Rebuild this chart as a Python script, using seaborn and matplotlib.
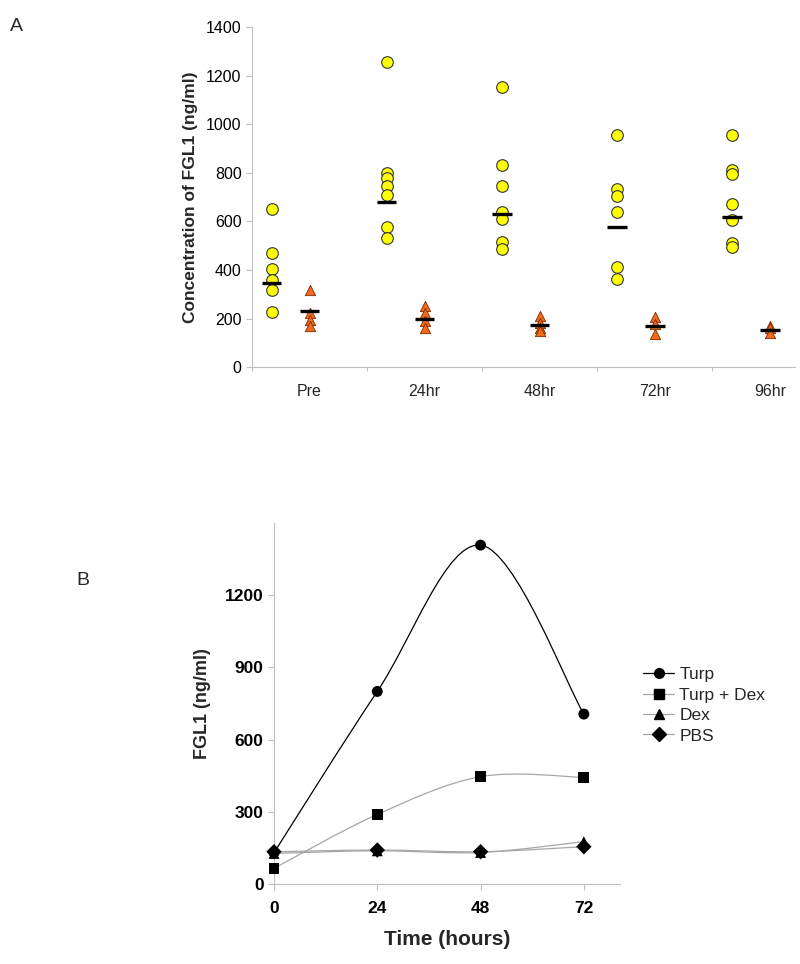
import numpy as np
import pandas as pd
import seaborn as sns
import matplotlib.pyplot as plt
from matplotlib.path import Path
from matplotlib.patches import PathPatch
from matplotlib.lines import Line2D

sns.set_style("ticks")
plt.rcParams['font.family'] = ['Liberation Sans', 'DejaVu Sans']

# --- panel A data ---
time_points = ['Pre', '24hr', '48hr', '72hr', '96hr']
circles = [
    [651, 470, 404, 361, 319, 226],
    [1255, 800, 779, 747, 707, 576, 532],
    [1153, 834, 747, 638, 612, 516, 487],
    [954, 734, 703, 640, 413, 363],
    [954, 810, 797, 672, 607, 511, 494],
]
triangles = [
    [317, 222, 195, 170],
    [254, 223, 189, 162],
    [213, 182, 160, 148],
    [206, 180, 138],
    [169, 162, 141],
]
circle_bars = [347, 679, 631, 577, 618]
triangle_bars = [230, 199, 173, 169, 152]

# --- panel B data ---
hours = [0, 24, 48, 72]
groups = ['Turp', 'Turp + Dex', 'Dex', 'PBS']
turp = [130, 800, 1408, 706]
turp_dex = [65, 289, 446, 443]
dex = [127, 138, 131, 176]
pbs = [134, 141, 134, 155]

GRAY = '#bfbfbf'


def smooth_path(xs, ys):
    # excel-like smoothed line: cubic bezier with catmull-rom control points
    pts = np.column_stack([xs, ys]).astype(float)
    p = np.vstack([pts[0], pts, pts[-1]])
    verts = [tuple(pts[0])]
    codes = [Path.MOVETO]
    for i in range(1, len(p) - 2):
        c1 = p[i] + (p[i + 1] - p[i - 1]) / 6
        c2 = p[i + 1] - (p[i + 2] - p[i]) / 6
        verts += [tuple(c1), tuple(c2), tuple(p[i + 1])]
        codes += [Path.CURVE4] * 3
    return Path(verts, codes)


def style_axes(ax):
    sns.despine(ax=ax)
    for s in ['left', 'bottom']:
        ax.spines[s].set_color(GRAY)
        ax.spines[s].set_linewidth(0.8)
    ax.tick_params(colors=GRAY, labelcolor='black', length=4, width=0.8)


fig = plt.figure(figsize=(8, 9.64), dpi=100)

# ================= A =================
axA = fig.add_axes([0.315, 0.619, 0.679, 0.353])
rows = []
for i, t in enumerate(time_points):
    for v in circles[i]:
        rows.append({'x': i - 0.33, 'y': v, 'grp': 'c'})
    for v in triangles[i]:
        rows.append({'x': i, 'y': v, 'grp': 't'})
dfA = pd.DataFrame(rows)
sns.scatterplot(data=dfA[dfA.grp == 'c'], x='x', y='y', ax=axA, marker='o',
                s=70, color='#ffff00', edgecolor='#333333', linewidth=0.8, zorder=3)
sns.scatterplot(data=dfA[dfA.grp == 't'], x='x', y='y', ax=axA, marker='^',
                s=55, color='#f26a1b', edgecolor='#7a2a00', linewidth=0.6, zorder=3)
idx = np.arange(len(time_points))
axA.hlines(circle_bars, idx - 0.33 - 0.085, idx - 0.33 + 0.085, color='black', lw=2.4, zorder=4)
axA.hlines(triangle_bars, idx - 0.085, idx + 0.085, color='black', lw=2.4, zorder=4)

axA.set_xticks(idx - 0.5)
axA.set_xticklabels([])
axA.set_xticks(idx, minor=True)
axA.set_xticklabels(time_points, minor=True, fontsize=11.5)
axA.set_yticks(range(0, 1401, 200))
axA.set_xlim(-0.5, 4.22)
axA.set_ylim(0, 1400)
axA.set_xlabel('')
axA.set_ylabel('Concentration of FGL1 (ng/ml)', fontsize=12.5, fontweight='bold', labelpad=6)
style_axes(axA)
axA.tick_params(axis='y', labelsize=11.5)
axA.tick_params(axis='x', which='major', length=3)
axA.tick_params(axis='x', which='minor', length=0, pad=12)
fig.text(0.012, 0.972, 'A', fontsize=14, va='center')

# ================= B =================
axB = fig.add_axes([0.3425, 0.083, 0.4325, 0.3745])
series = [turp, turp_dex, dex, pbs]
line_colors = ['black', '#a6a6a6', '#a6a6a6', '#a6a6a6']
markers = ['o', 's', '^', 'D']
for vals, c in zip(series, line_colors):
    axB.add_patch(PathPatch(smooth_path(hours, vals), facecolor='none',
                            edgecolor=c, lw=0.9, zorder=2))
dfB = pd.DataFrame({'hour': hours * 4,
                    'value': turp + turp_dex + dex + pbs,
                    'group': np.repeat(groups, 4)})
sns.scatterplot(data=dfB, x='hour', y='value', style='group', style_order=groups,
                markers=dict(zip(groups, markers)), color='black', s=62,
                edgecolor='black', linewidth=0, ax=axB, legend=False, zorder=3, clip_on=False)
axB.set_xticks(hours)
axB.set_yticks(range(0, 1201, 300))
axB.set_xlim(0, 80.4)
axB.set_ylim(0, 1500)
axB.set_xlabel('Time (hours)', fontsize=15, fontweight='bold', labelpad=10)
axB.set_ylabel('FGL1 (ng/ml)', fontsize=13, fontweight='bold', labelpad=10)
style_axes(axB)
for lab in axB.get_xticklabels() + axB.get_yticklabels():
    lab.set_fontweight('bold')
axB.tick_params(axis='both', labelsize=12.5)
axB.tick_params(axis='x', pad=8)

handles = [Line2D([], [], color=c, lw=0.9, marker=m, markersize=7,
                  markerfacecolor='black', markeredgecolor='black')
           for c, m in zip(line_colors, markers)]
fig.legend(handles, groups, loc='upper left', bbox_to_anchor=(0.795, 0.315),
           frameon=False, fontsize=12.5, handlelength=1.8, handletextpad=0.3,
           labelspacing=0.3, borderaxespad=0)
fig.text(0.095, 0.398, 'B', fontsize=14, va='center')

fig.savefig('out.png', dpi=100)
